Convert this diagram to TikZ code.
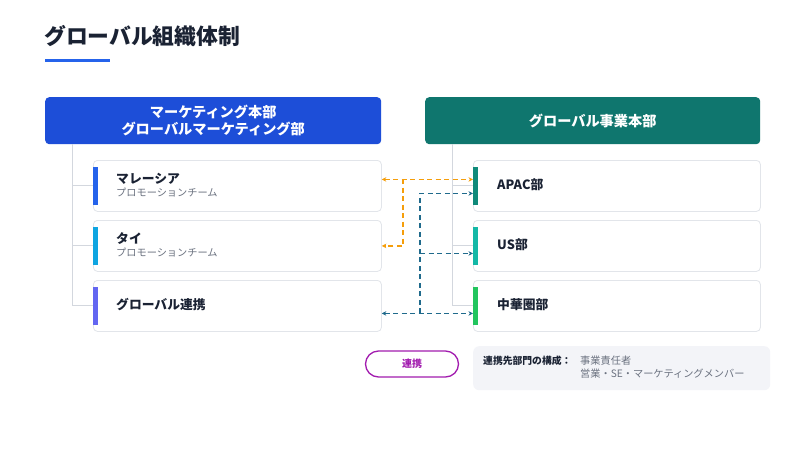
\documentclass[tikz,border=0pt]{standalone}
\usepackage{fontspec}
\setmainfont{Noto Sans CJK JP}
\usepackage{xcolor}
\usepackage{tikz}
\usetikzlibrary{shapes,arrows,arrows.meta,positioning}

\definecolor{titlecol}{HTML}{1A2233}
\definecolor{accent}{HTML}{2563EB}
\definecolor{mkthead}{HTML}{1D4ED8}
\definecolor{bizhead}{HTML}{0F766E}
\definecolor{cardline}{HTML}{E2E5EA}
\definecolor{treeline}{HTML}{D3D7DE}
\definecolor{subgray}{HTML}{6B7280}
\definecolor{orangelink}{HTML}{F59E0B}
\definecolor{bluelink}{HTML}{1F6A8C}
\definecolor{pillcol}{HTML}{A21CAF}
\definecolor{infobg}{HTML}{F3F4F8}

\tikzset{
  head/.style={rectangle, rounded corners=4pt, minimum width=336pt, minimum height=47pt,
    text=white, align=center, font=\fontsize{14.2}{17}\selectfont\bfseries},
  card/.style={draw=cardline, line width=0.8pt, fill=white, rectangle, rounded corners=4pt,
    minimum width=288pt, minimum height=51pt},
  bar/.style={rectangle, inner sep=0pt, minimum width=5pt, minimum height=38pt},
  ttl/.style={inner sep=0pt, anchor=west, text=titlecol, font=\fontsize{12.8}{15}\selectfont\bfseries},
  sub/.style={inner sep=0pt, anchor=west, text=subgray, font=\fontsize{10.2}{12}\selectfont},
  tree/.style={draw=treeline, line width=1pt},
  olink/.style={draw=orangelink, line width=1.5pt, dash pattern=on 5pt off 3.5pt, >={Stealth[length=4.5pt,width=4.5pt]}},
  blink/.style={draw=bluelink, line width=1.5pt, dash pattern=on 5pt off 3.5pt, >={Stealth[length=4.5pt,width=4.5pt]}}
}

\begin{document}
\begin{tikzpicture}[x=1pt, y=-1pt, node distance=8.2pt]
    \useasboundingbox[fill=white] (0,0) rectangle (800,450);

    % title
    \node[anchor=west, inner sep=0pt, text=titlecol, font=\fontsize{21.8}{25}\selectfont\bfseries] (title) at (44,36) {グローバル組織体制};
    \draw[accent, line width=3pt] (45,60) -- (110,60);

    % headers
    \node[head, fill=mkthead, anchor=north west] (mkt) at (45,97) {マーケティング本部\\グローバルマーケティング部};
    \node[head, fill=bizhead, anchor=north west, minimum width=335pt] (biz) at (425,97) {グローバル事業本部};

    % left cards
    \node[card, anchor=north west] (mal) at (93,160) {};
    \node[card, below=of mal] (tai) {};
    \node[card, below=of tai] (glo) {};
    \node[bar, fill=accent, anchor=west] at (mal.west) {};
    \node[bar, fill={rgb,255:red,14;green,165;blue,225}, anchor=west] at (tai.west) {};
    \node[bar, fill={rgb,255:red,99;green,102;blue,241}, anchor=west] at (glo.west) {};
    \node[ttl] (malT) at ([xshift=23pt,yshift=7.5pt]mal.west) {マレーシア};
    \node[sub] (malS) at ([xshift=23pt,yshift=-6.5pt]mal.west) {プロモーションチーム};
    \node[ttl] (taiT) at ([xshift=23pt,yshift=7.5pt]tai.west) {タイ};
    \node[sub] (taiS) at ([xshift=23pt,yshift=-6.5pt]tai.west) {プロモーションチーム};
    \node[ttl] (gloT) at ([xshift=23pt,yshift=1pt]glo.west) {グローバル連携};

    % right cards
    \node[card, anchor=north west, minimum width=287pt] (apac) at (473,160) {};
    \node[card, below=of apac, minimum width=287pt] (us) {};
    \node[card, below=of us, minimum width=287pt] (chuka) {};
    \node[bar, fill={rgb,255:red,15;green,138;blue,122}, anchor=west] at (apac.west) {};
    \node[bar, fill={rgb,255:red,20;green,184;blue,166}, anchor=west] at (us.west) {};
    \node[bar, fill={rgb,255:red,34;green,197;blue,94}, anchor=west] at (chuka.west) {};
    \node[ttl] (apacT) at ([xshift=24pt,yshift=1pt]apac.west) {APAC部};
    \node[ttl] (usT) at ([xshift=24pt,yshift=1pt]us.west) {US部};
    \node[ttl] (chukaT) at ([xshift=24pt,yshift=1pt]chuka.west) {中華圏部};

    % tree lines
    \coordinate (ltop) at (72,144);
    \coordinate (rtop) at (452,144);
    \draw[tree] (ltop) |- (glo.west);
    \draw[tree] (ltop |- mal.west) -- (mal.west);
    \draw[tree] (ltop |- tai.west) -- (tai.west);
    \draw[tree] (rtop) |- (chuka.west);
    \draw[tree] (rtop |- apac.west) -- (apac.west);
    \draw[tree] (rtop |- us.west) -- (us.west);

    % orange links
    \coordinate (ojoin) at (403,179);
    \draw[olink, <->] ([yshift=6.5pt]mal.east) -- ([yshift=6.5pt]apac.west);
    \draw[olink, ->] (ojoin) |- (tai.east);

    % blue links
    \coordinate (bjoin) at (420,313);
    \coordinate (apacin) at ([yshift=-7.5pt]apac.west);
    \coordinate (usin) at ([yshift=-7.5pt]us.west);
    \draw[blink, <->] ([yshift=-7.5pt]glo.east) -- ([yshift=-7.5pt]chuka.west);
    \draw[blink, ->] (bjoin) |- (apacin);
    \draw[blink, ->] (bjoin |- usin) -- (usin);

    % legend
    \node[draw=pillcol, line width=1.3pt, rounded corners=13pt, minimum width=93pt, minimum height=26pt,
      text=pillcol, font=\fontsize{10}{12}\selectfont\bfseries] (legend) at (412,364) {連携};
    \node[fill=infobg, rounded corners=6pt, minimum width=297pt, minimum height=44pt, anchor=north west] (info) at (473,346) {};
    \node[anchor=west, inner sep=0pt, text=titlecol, font=\fontsize{9.8}{12}\selectfont\bfseries] (infoK) at (483,361) {連携先部門の構成：};
    \node[anchor=west, inner sep=0pt, text=subgray, font=\fontsize{10.2}{12}\selectfont] (infoA) at (580,361) {事業責任者};
    \node[anchor=west, inner sep=0pt, text=subgray, font=\fontsize{10.2}{12}\selectfont] (infoB) at (580,374) {営業・SE・マーケティングメンバー};
\end{tikzpicture}
\end{document}
